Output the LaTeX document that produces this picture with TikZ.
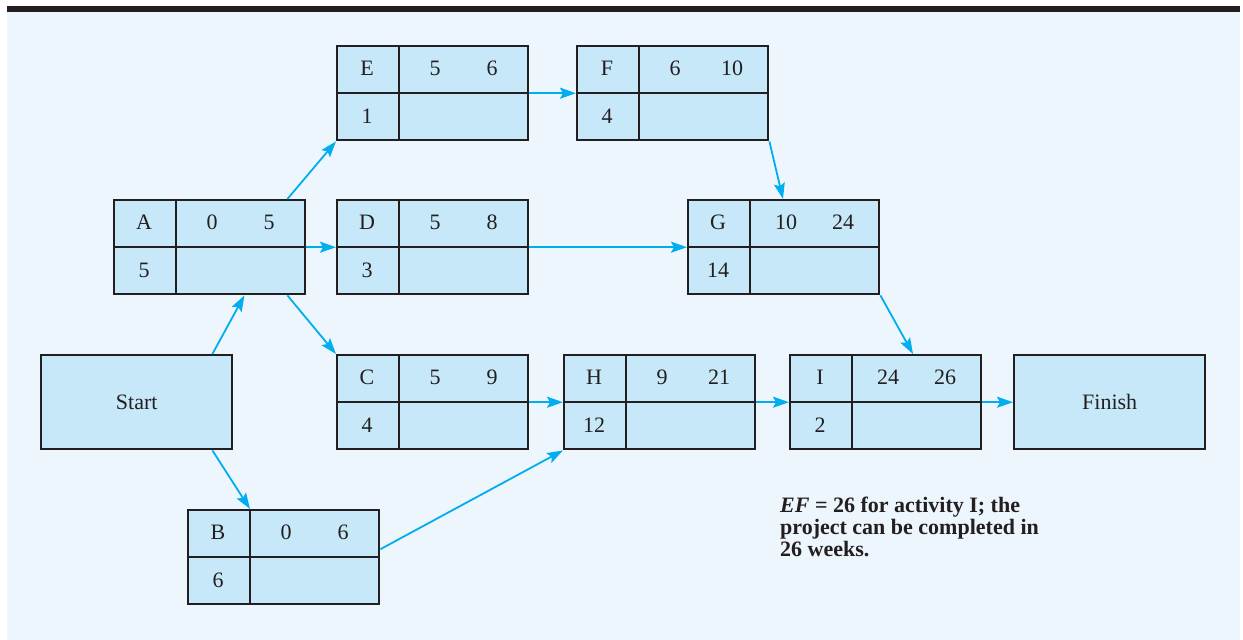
\documentclass[tikz,border=0pt]{standalone}
\usepackage{fontspec}
\setmainfont{Liberation Serif}
\usetikzlibrary{arrows.meta}
\definecolor{netink}{HTML}{231F20}
\definecolor{netpanel}{HTML}{EEF6FD}
\definecolor{netbox}{HTML}{C6E8F8}
\definecolor{netcyan}{HTML}{00AEEF}
\tikzstyle{box} = [draw=netink, fill=netbox, line width=2.4pt, minimum width=191pt, minimum height=94pt, inner sep=0pt, anchor=north west]
\tikzset{
  % one pixel of the figure is one point, y runs down the page
  cell/.style={text=netink, font=\fontsize{22}{22}\selectfont, inner sep=0pt},
  link/.style={draw=netcyan, line width=1.8pt, -{Stealth[length=16pt,width=11pt,inset=3pt]}},
}

\begin{document}
\begin{tikzpicture}[x=1pt,y=-1pt]
  \useasboundingbox (0,0) rectangle (1243,640);
  \fill[netpanel] (7,12) rectangle (1240,640);
  \fill[netink] (7,6) rectangle (1240,12);
  % activity: name/x/y/label/duration/ES/EF
  \foreach \nm/\px/\py/\lab/\dur/\es/\ef in {a/113/199/A/5/0/5, b/187/509/B/6/0/6,
      c/336/354/C/4/5/9, d/336/199/D/3/5/8, e/336/45/E/1/5/6, f/576/45/F/4/6/10,
      g/687/199/G/14/10/24, h/563/354/H/12/9/21, i/789/354/I/2/24/26} {
    \node[box] (\nm) at (\px,\py) {};
    \draw[netink, line width=2.4pt] (\nm.west) -- (\nm.east)
      ([xshift=63pt]\nm.north west) -- ([xshift=63pt]\nm.south west);
    \node[cell] (\nm-id) at (\px+31,\py+23) {\lab};
    \node[cell] (\nm-t) at (\px+31,\py+71) {\dur};
    \node[cell] (\nm-es) at (\px+99,\py+23) {\es};
    \node[cell] (\nm-ef) at (\px+156,\py+23) {\ef};
  }
  \node[box, cell] (start) at (40,354) {Start};
  \node[box, cell] (finish) at (1013,354) {Finish};

  \draw[link] ([xshift=-21pt]start.north east) -- ([xshift=-62pt]a.south east);
  \draw[link] ([xshift=-21pt]start.south east) -- ([xshift=63pt]b.north west);
  \draw[link] ([xshift=-19pt]a.north east) -- (e.south west);
  \draw[link] (a.east) -- (d.west);
  \draw[link] ([xshift=-19pt]a.south east) -- (c.north west);
  \draw[link] (e.east) -- (f.west);
  \draw[link] (f.south east) -- ([xshift=96pt]g.north west);
  \draw[link] (d.east) -- (g.west);
  \draw[link] (g.south east) -- ([xshift=124pt]i.north west);
  \draw[link] (c.east) -- (h.west);
  \draw[link] ([yshift=8pt]b.east) -- (h.south west);
  \draw[link] (h.east) -- (i.west);
  \draw[link] (i.east) -- (finish.west);

  \node[cell, anchor=north west, align=left, font=\fontsize{22}{22}\selectfont\bfseries] (note) at (780,497)
    {\textit{EF} = 26 for activity I; the\\project can be completed in\\26 weeks.};
\end{tikzpicture}
\end{document}
